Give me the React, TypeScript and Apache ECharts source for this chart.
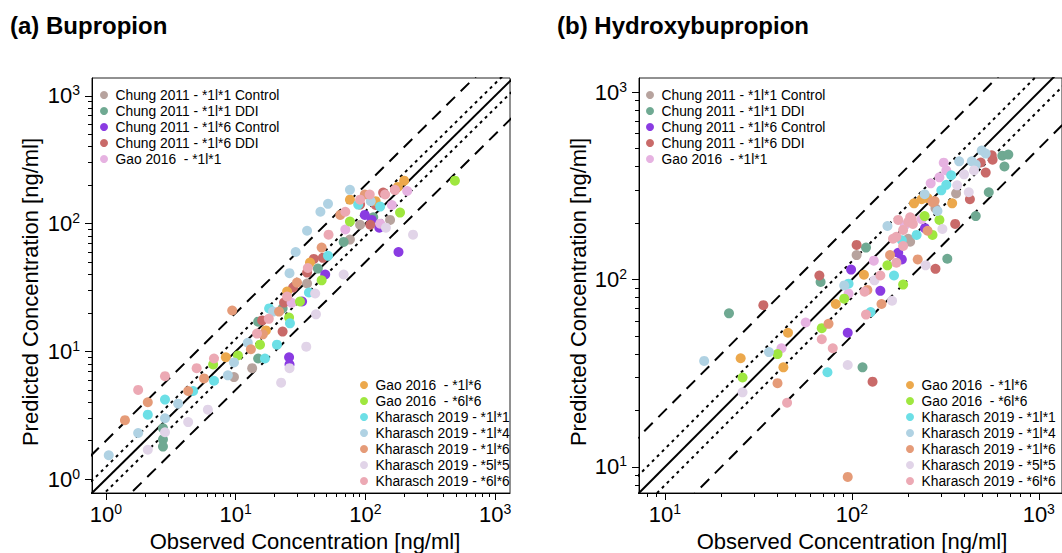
import React, { useEffect, useRef } from "react";
import * as echarts from "echarts";

const FONT = "'Liberation Sans', Arial, sans-serif";

const SERIES_NAMES = [
  "Chung 2011 - *1l*1 Control",
  "Chung 2011 - *1l*1 DDI",
  "Chung 2011 - *1l*6 Control",
  "Chung 2011 - *1l*6 DDI",
  "Gao 2016  - *1l*1",
  "Gao 2016  - *1l*6",
  "Gao 2016  - *6l*6",
  "Kharasch 2019 - *1l*1",
  "Kharasch 2019 - *1l*4",
  "Kharasch 2019 - *1l*6",
  "Kharasch 2019 - *5l*5",
  "Kharasch 2019 - *6l*6",
];
const SERIES_COLORS = [
  "#b7a39e", "#6fa992", "#8a3be2", "#c96a69", "#e6b2e1", "#eca84c",
  "#9fe73f", "#6cdfe6", "#b0d2e3", "#e59b78", "#e1d4e8", "#eca9b4",
];
const TOP_LEGEND = SERIES_NAMES.slice(0, 5);
const BOTTOM_LEGEND = SERIES_NAMES.slice(5);

// ---- (a) Bupropion: [observed, predicted] ng/ml
const bupChungWtCtrl = [[9.7, 6.3], [13.4, 7.4], [35.5, 34], [155, 107], [91, 98], [76, 75]];
const bupChungWtDdi = [[2.75, 2.5], [2.75, 2.05], [2.75, 1.8], [14.9, 8.8], [14.9, 17.1], [23, 21.7], [43, 44.5], [68, 72], [115, 112]];
const bupChungHetCtrl = [[25.8, 9.0], [26, 7.9], [32.5, 24.6], [49, 40], [180, 60], [112, 107], [128, 93], [99, 117]];
const bupChungHetDdi = [[16, 17.5], [23, 14.3], [23.6, 24.1], [27.7, 31.6], [35.5, 41.4], [40, 53], [47, 54], [137, 175], [169, 184], [91, 141], [109, 98], [120, 140]];
const bupGaoWt = [[27, 24], [130, 100], [160, 140], [210, 180], [70, 90]];
const bupGaoHet = [[8.4, 9.0], [17.1, 14.6], [24.9, 29.4], [37.4, 49.6], [199, 217], [178, 194], [76, 154], [120, 150]];
const bupGaoHom = [[6.7, 7.9], [10.4, 9.3], [15.4, 11.3], [25.8, 18.4], [31.3, 24.6], [46, 36], [490, 217], [185, 122], [76, 104]];
const bupKhWt = [[2.1, 3.2], [2.85, 4.2], [4.7, 4.9], [6.8, 5.9], [16.8, 8.8], [18.1, 21.7], [20.8, 11.3], [26.2, 16.6], [36.7, 28.9], [51.5, 56], [130, 136], [88, 141]];
const bupKh14 = [[1.05, 1.54], [1.77, 2.3], [2.85, 3.0], [3.6, 3.9], [8.7, 6.5], [9.7, 8.2], [12.4, 11.7], [19.4, 20.5], [26, 41], [29, 60], [35.5, 88], [45, 124], [51.5, 143], [76, 184], [110, 150]];
const bupKh16 = [[1.4, 2.9], [2.1, 4.0], [4.3, 4.9], [5.7, 6.15], [9.4, 20.9], [13.1, 10.4], [16.2, 13.6], [21.6, 20.5], [29.7, 34.6], [46, 65], [99, 169], [64, 117]];
const bupKh55 = [[2.1, 1.7], [2.85, 2.33], [4.3, 2.8], [6.1, 3.5], [22.4, 5.7], [26, 7.4], [35, 10.9], [41, 28.4], [41.6, 19.5], [233, 82], [144, 93], [68, 40]];
const bupKh66 = [[1.77, 5.0], [2.85, 6.4], [5.0, 7.4], [6.8, 8.8], [14.6, 13.8], [18, 18], [24.9, 26.9], [36, 45], [52, 82], [108, 169], [142, 169], [169, 184], [91, 154], [70, 124]];

// ---- (b) Hydroxybupropion: [observed, predicted] ng/ml
const hbChungWtCtrl = [[106, 135], [200, 165], [361, 288], [205, 159], [280, 240]];
const hbChungWtDdi = [[22, 66], [68, 97], [119, 148], [114, 34], [324, 129], [460, 218], [540, 292], [638, 458], [687, 464], [655, 401]];
const hbChungHetCtrl = [[95, 52], [142, 87], [99, 113], [177, 139], [185, 128], [246, 188]];
const hbChungHetDdi = [[33.6, 73], [129, 28.5], [67, 105], [106, 153], [280, 114], [357, 198], [428, 268], [489, 421], [566, 436], [560, 460], [520, 372]];
const hbGaoWt = [[56.6, 59], [42, 43], [96, 84], [131, 126], [264, 326], [294, 351], [320, 382], [192, 195], [236, 210], [310, 420]];
const hbGaoHet = [[25.4, 38], [45.5, 52], [43, 34], [82, 74], [116, 106], [344, 255], [254, 272], [215, 255], [236, 268]];
const hbGaoHom = [[26, 30], [40, 40], [69, 55], [91, 79], [155, 119], [188, 94], [245, 218], [270, 173], [294, 208]];
const hbKhWt = [[74, 32], [96, 95], [126, 67], [168, 105], [185, 162], [340, 360], [320, 320], [301, 299], [222, 173]];
const hbKh14 = [[16.2, 36.8], [36, 41], [91, 93], [155, 193], [287, 232], [245, 285], [375, 427], [438, 427], [495, 488], [520, 470], [460, 410]];
const hbKh16 = [[40, 28], [75, 58], [121, 88], [144, 74], [95, 8.85], [160, 135], [225, 128], [254, 182], [277, 262], [270, 259]];
const hbKh55 = [[26, 25], [95, 35], [164, 77], [132, 99], [248, 119], [305, 186], [422, 292], [366, 318], [398, 364], [450, 382]];
const hbKh66 = [[45, 22], [69, 48], [79, 43], [117, 86], [119, 65], [142, 105], [173, 123], [173, 169], [188, 151], [177, 208], [205, 215], [188, 184], [209, 210], [200, 203], [212, 198], [166, 165]];

const BUP_DATA = [bupChungWtCtrl, bupChungWtDdi, bupChungHetCtrl, bupChungHetDdi, bupGaoWt, bupGaoHet, bupGaoHom, bupKhWt, bupKh14, bupKh16, bupKh55, bupKh66];
const HB_DATA = [hbChungWtCtrl, hbChungWtDdi, hbChungHetCtrl, hbChungHetDdi, hbGaoWt, hbGaoHet, hbGaoHom, hbKhWt, hbKh14, hbKh16, hbKh55, hbKh66];

// axis ranges and ticks
const BUP_X_RANGE = [0.78, 1303];
const BUP_Y_RANGE = [0.78, 1380];
const HB_X_RANGE = [7.26, 1331];
const HB_Y_RANGE = [7.26, 1189];
const BUP_MAJOR = [1, 10, 100, 1000];
const HB_MAJOR = [10, 100, 1000];
const MINOR_TICKS = [2, 3, 4, 5, 6, 7, 8, 9, 20, 30, 40, 50, 60, 70, 80, 90, 200, 300, 400, 500, 600, 700, 800, 900];

// fold lines: identity, 1.25-fold (dotted), 2-fold (dashed)
const FOLDS = [1, 1.25, 0.8, 2, 0.5];
const FOLD_KIND = ["solid", "dotted", "dotted", "dashed", "dashed"];
const REF_X = [0.1, 20000];

const TITLES = ["(a) Bupropion", "(b) Hydroxybupropion"];
const X_NAME = "Observed Concentration [ng/ml]";
const Y_NAME = "Predicted Concentration [ng/ml]";

const lineTypeFor = (k: string): any =>
  k === "solid" ? "solid" : k === "dotted" ? [3, 4] : [12, 8];

function axisPair(gridIndex: number, range: number[], major: number[], isX: boolean) {
  const labelRich = {
    b: { fontSize: 22, fontFamily: FONT, color: "#000", lineHeight: 25 },
    s: { fontSize: 14, fontFamily: FONT, color: "#000", verticalAlign: "top", lineHeight: 25 },
  };
  const main = {
    type: "log",
    logBase: 10,
    gridIndex,
    min: range[0],
    max: range[1],
    position: isX ? "bottom" : "left",
    axisLine: { show: true, onZero: false, lineStyle: { color: "#000", width: 1 } },
    axisTick: { show: true, length: 7, customValues: major, lineStyle: { color: "#000", width: 1 } },
    axisLabel: {
      show: true,
      customValues: major,
      margin: isX ? 9 : 12,
      formatter: (v: number) => `{b|10}{s|${Math.round(Math.log10(v))}}`,
      rich: labelRich,
    },
    splitLine: { show: false },
    minorTick: { show: false },
  };
  const minor = {
    type: "log",
    logBase: 10,
    gridIndex,
    min: range[0],
    max: range[1],
    position: isX ? "bottom" : "left",
    axisLine: { show: false, onZero: false },
    axisTick: { show: true, length: 4, customValues: MINOR_TICKS, lineStyle: { color: "#000", width: 1 } },
    axisLabel: { show: false },
    splitLine: { show: false },
  };
  return [main, minor];
}

function buildOption() {
  const panels = [
    { data: BUP_DATA, grid: 0 },
    { data: HB_DATA, grid: 1 },
  ];
  const series: any[] = [];
  panels.forEach((p) => {
    FOLDS.forEach((f, k) => {
      series.push({
        type: "line",
        xAxisIndex: p.grid * 2,
        yAxisIndex: p.grid * 2,
        data: REF_X.map((x) => [x, x * f]),
        symbol: "none",
        silent: true,
        clip: true,
        lineStyle: { color: "#000", width: 2, type: lineTypeFor(FOLD_KIND[k]), cap: "butt" },
        z: 1,
      });
    });
    p.data.forEach((d, i) => {
      series.push({
        name: SERIES_NAMES[i],
        type: "scatter",
        xAxisIndex: p.grid * 2,
        yAxisIndex: p.grid * 2,
        data: d,
        symbol: "circle",
        symbolSize: 10,
        itemStyle: { color: SERIES_COLORS[i], opacity: 1 },
        z: 2,
      });
    });
  });

  const legendBase = {
    orient: "vertical",
    icon: "circle",
    itemWidth: 13,
    itemHeight: 8,
    itemGap: 2,
    padding: 0,
    selectedMode: false,
    textStyle: { fontSize: 13.8, fontFamily: FONT, color: "#000", lineHeight: 14 },
  };

  const mid = { textAlign: "center", align: "center", textVerticalAlign: "middle", verticalAlign: "middle" };
  const graphic: any[] = [
    { type: "text", x: 10, y: 25, style: { text: TITLES[0], font: `bold 24px ${FONT}`, fill: "#000", textVerticalAlign: "middle", verticalAlign: "middle" } },
    { type: "text", x: 557, y: 25, style: { text: TITLES[1], font: `bold 24px ${FONT}`, fill: "#000", textVerticalAlign: "middle", verticalAlign: "middle" } },
    { type: "text", x: 305, y: 541, style: { text: X_NAME, font: `22px ${FONT}`, fill: "#000", ...mid } },
    { type: "text", x: 852, y: 541, style: { text: X_NAME, font: `22px ${FONT}`, fill: "#000", ...mid } },
    { type: "text", x: 30, y: 292, rotation: Math.PI / 2, style: { text: Y_NAME, font: `22px ${FONT}`, fill: "#000", ...mid } },
    { type: "text", x: 578, y: 292, rotation: Math.PI / 2, style: { text: Y_NAME, font: `22px ${FONT}`, fill: "#000", ...mid } },
  ];

  return {
    animation: false,
    backgroundColor: "#fff",
    textStyle: { fontFamily: FONT },
    grid: [
      { left: 92, top: 78, width: 418, height: 415, show: true, borderColor: "#222", borderWidth: 1, backgroundColor: "transparent" },
      { left: 639, top: 78, width: 430, height: 415, show: true, borderColor: "#222", borderWidth: 1, backgroundColor: "transparent" },
    ],
    xAxis: [...axisPair(0, BUP_X_RANGE, BUP_MAJOR, true), ...axisPair(1, HB_X_RANGE, HB_MAJOR, true)],
    yAxis: [...axisPair(0, BUP_Y_RANGE, BUP_MAJOR, false), ...axisPair(1, HB_Y_RANGE, HB_MAJOR, false)],
    legend: [
      { ...legendBase, left: 100, top: 88, data: TOP_LEGEND },
      { ...legendBase, left: 360, top: 378, data: BOTTOM_LEGEND },
      { ...legendBase, left: 646, top: 88, data: TOP_LEGEND },
      { ...legendBase, left: 906, top: 378, data: BOTTOM_LEGEND },
    ],
    graphic,
    series,
  };
}

export default function App() {
  const ref = useRef<HTMLDivElement>(null);
  useEffect(() => {
    if (!ref.current) return;
    const chart = echarts.init(ref.current, undefined, { renderer: "svg" });
    chart.setOption(buildOption() as any);
    return () => chart.dispose();
  }, []);
  return (
    <div
      ref={ref}
      style={{ position: "absolute", left: 0, top: 0, width: 1062, height: 553, background: "#fff" }}
    />
  );
}
